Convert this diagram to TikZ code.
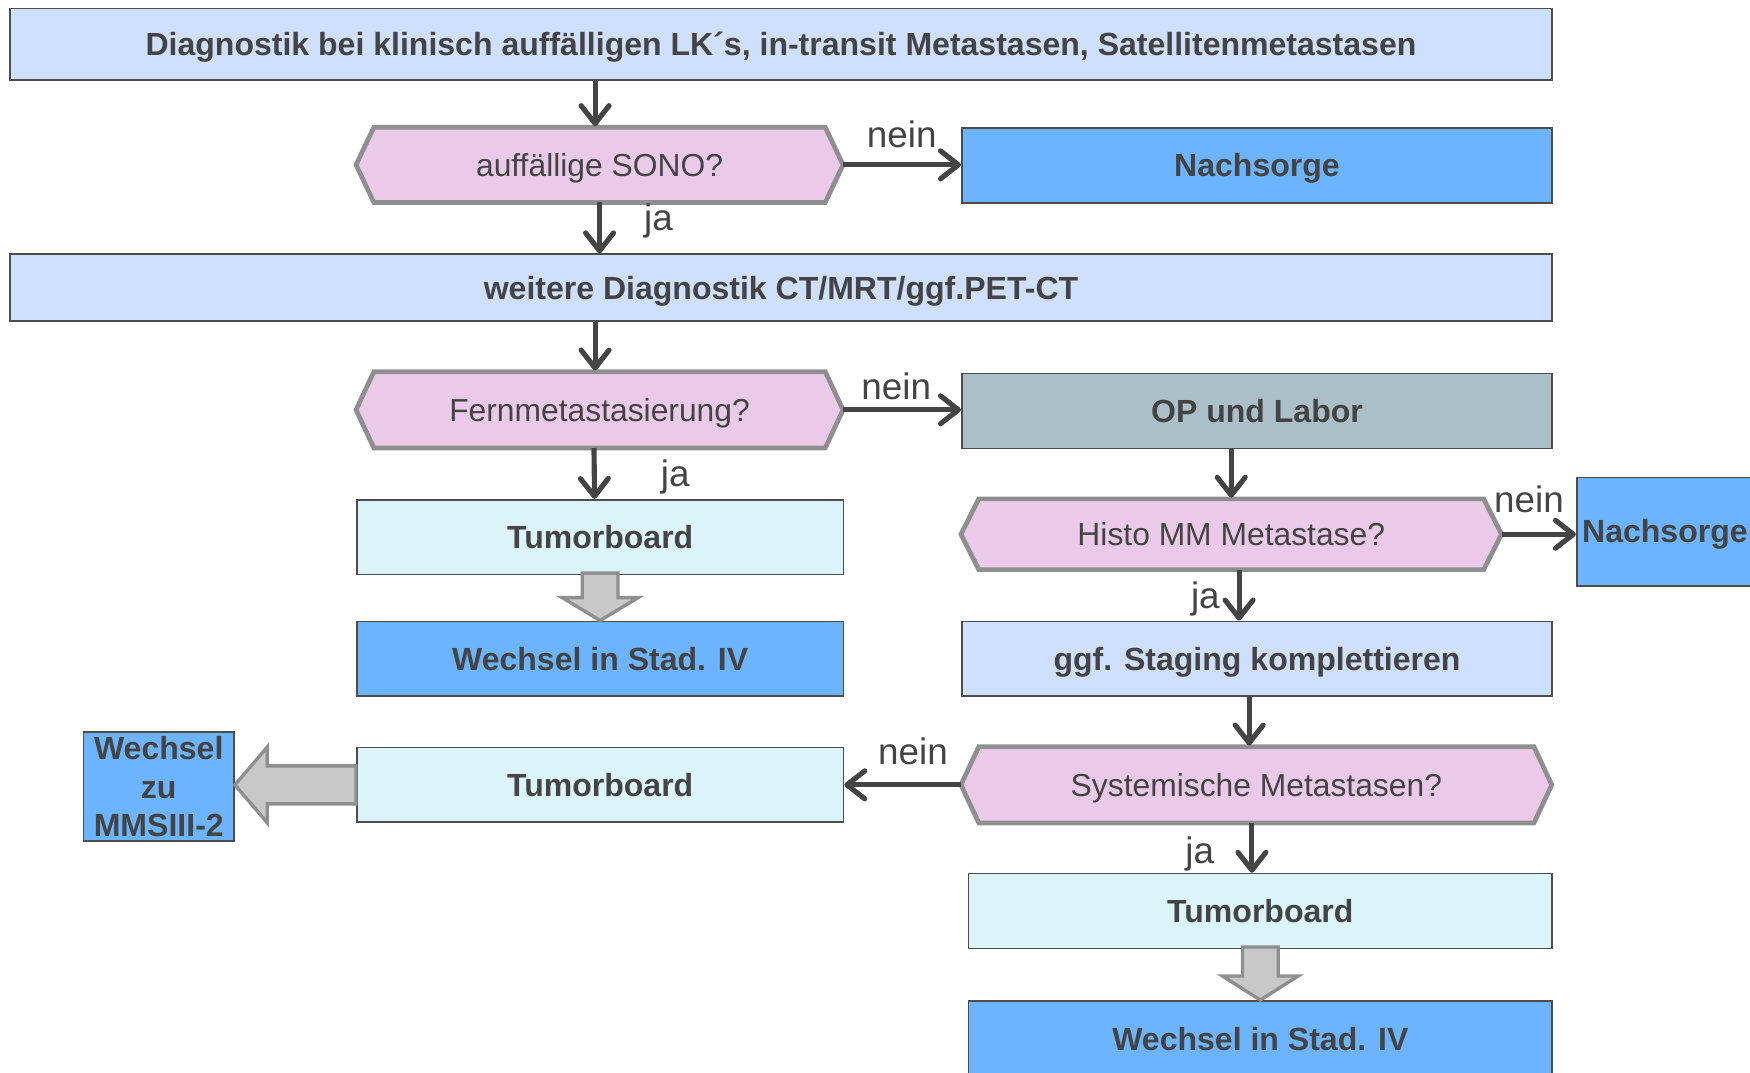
\documentclass[tikz,border=0pt]{standalone}
\usepackage{fontspec}
\setmainfont{Liberation Sans}
\usetikzlibrary{arrows.meta,backgrounds,calc}
\definecolor{lblue}{HTML}{CFDFFF}
\definecolor{pinkf}{HTML}{EACAE8}
\definecolor{bluef}{HTML}{6CB4FF}
\definecolor{grayb}{HTML}{AABFC8}
\definecolor{cyanf}{HTML}{DBF4F9}
\definecolor{txt}{HTML}{444444}
\definecolor{bord}{HTML}{4D4D4D}
\definecolor{hexb}{HTML}{8F8F8F}
\definecolor{blockf}{HTML}{C8C8C8}
\newcommand\hexpath[1]{\draw[hexline] (#1.west) -- ([xshift=16pt]#1.north west) -- ([xshift=-16pt]#1.north east) -- (#1.east) -- ([xshift=-16pt]#1.south east) -- ([xshift=16pt]#1.south west) -- cycle;}
\begin{document}
\begin{tikzpicture}[x=1pt,y=-1pt,
  box/.style={draw=bord, line width=1.5pt, text=txt, font=\fontsize{28.7}{34.5}\selectfont\bfseries, inner sep=0pt, anchor=north west, align=center},
  one/.style={text height=20.5pt, text depth=0pt},
  hexn/.style={anchor=north west, inner sep=0pt, text=txt, font=\fontsize{28.5}{34}\selectfont, text height=20.5pt, text depth=0pt},
  hexline/.style={draw=hexb, fill=pinkf, line width=4.2pt, line join=miter},
  lab/.style={text=txt, font=\fontsize{33}{36}\selectfont, inner sep=0pt},
  arr/.style={draw=txt, line width=4.6pt, -{Straight Barb[length=16pt,width=25pt,round]}},
  blk/.style={fill=blockf, draw=hexb, line width=3pt, line join=miter}]
\clip (0,0) rectangle (1568,961);

% nodes
\node[box, one, fill=lblue, minimum width=1382pt, minimum height=64pt] (title) at (8,7) {Diagnostik bei klinisch auffälligen LK´s, in-transit Metastasen, Satellitenmetastasen};
\node[hexn, minimum width=436pt, minimum height=67pt] (sono) at (319,114) {auffällige SONO?};
\node[box, one, fill=bluef, minimum width=529pt, minimum height=67pt] (nach1) at (861,114) {Nachsorge};
\node[box, one, fill=lblue, minimum width=1382pt, minimum height=60pt] (weit) at (8,227) {weitere Diagnostik CT/MRT/ggf.PET-CT};
\node[hexn, minimum width=436pt, minimum height=68pt] (fern) at (319,333) {Fernmetastasierung?};
\node[box, one, fill=grayb, minimum width=529pt, minimum height=67pt] (op) at (861,334) {OP und Labor};
\node[box, one, fill=cyanf, minimum width=436pt, minimum height=67pt] (tb1) at (319,447) {Tumorboard};
\node[box, one, fill=bluef, minimum width=436pt, minimum height=67pt] (wech1) at (319,556) {Wechsel in Stad. IV};
\node[hexn, minimum width=484pt, minimum height=63pt] (histo) at (861,447) {Histo MM Metastase?};
\node[box, one, fill=bluef, minimum width=158pt, minimum height=97pt] (nach2) at (1412,427) {Nachsorge};
\node[box, one, fill=lblue, minimum width=529pt, minimum height=67pt] (stag) at (861,556) {ggf. Staging komplettieren};
\node[hexn, minimum width=529pt, minimum height=68pt] (syst) at (861,669) {Systemische Metastasen?};
\node[box, one, fill=cyanf, minimum width=436pt, minimum height=67pt] (tb2) at (319,669) {Tumorboard};
\node[box, fill=bluef, minimum width=135pt, minimum height=98pt] (mms) at (74,655) {Wechsel\\zu\\MMSIII-2};
\node[box, one, fill=cyanf, minimum width=523pt, minimum height=67pt] (tb3) at (867,782) {Tumorboard};
\node[box, one, fill=bluef, minimum width=523pt, minimum height=68pt] (wech2) at (867,896) {Wechsel in Stad. IV};

\begin{scope}[on background layer]
\hexpath{sono}
\hexpath{fern}
\hexpath{histo}
\hexpath{syst}
\end{scope}

% connectors
\draw[arr] ([xshift=-4pt]sono.north |- title.south) -- ([xshift=-4pt,yshift=1pt]sono.north);
\draw[arr] (sono.east) -- (sono.east -| nach1.west);
\draw[arr] (sono.south) -- (sono.south |- weit.north);
\draw[arr] ([xshift=-4pt]fern.north |- weit.south) -- ([xshift=-4pt,yshift=1pt]fern.north);
\draw[arr] (fern.east) -- (fern.east -| op.west);
\draw[arr] ([xshift=-5pt]fern.south) -- ([xshift=-5pt]tb1.north);
\draw[arr] (histo.north |- op.south) -- ([yshift=1pt]histo.north);
\draw[arr] (histo.east) -- (histo.east -| nach2.west);
\draw[arr] ([xshift=7pt]histo.south) -- ([xshift=7pt]histo.south |- stag.north);
\draw[arr] ([xshift=-7pt]stag.south) -- ([xshift=-7pt,yshift=1pt]stag.south |- syst.north);
\draw[arr] (syst.west) -- (syst.west -| tb2.east);
\draw[arr] ([xshift=-4pt]syst.south) -- ([xshift=-4pt]syst.south |- tb3.north);

% block arrows
\draw[blk] ($(tb1.south)+(-16,-2)$) -- ($(tb1.south)+(16,-2)$) -- ($(tb1.south)+(16,20)$) -- ($(tb1.south)+(34,20)$) -- (wech1.north) -- ($(tb1.south)+(-34,20)$) -- ($(tb1.south)+(-16,20)$) -- cycle;
\draw[blk] ($(tb3.south)+(-16,-2)$) -- ($(tb3.south)+(16,-2)$) -- ($(tb3.south)+(16,24)$) -- ($(tb3.south)+(34,24)$) -- (wech2.north) -- ($(tb3.south)+(-34,24)$) -- ($(tb3.south)+(-16,24)$) -- cycle;
\coordinate (mtip) at (mms.east |- tb2.west);
\draw[blk] ($(tb2.west)+(0,-17)$) -- ($(tb2.west)+(0,17)$) -- ($(mtip)+(29,17)$) -- ($(mtip)+(29,34)$) -- (mtip) -- ($(mtip)+(29,-34)$) -- ($(mtip)+(29,-17)$) -- cycle;

% labels
\node[lab] (l1) at (808,120) {nein};
\node[lab] (l2) at (590,198) {ja};
\node[lab] (l3) at (803,346) {nein};
\node[lab] (l4) at (605,427) {ja};
\node[lab] (l5) at (1370,447) {nein};
\node[lab] (l6) at (1080,537) {ja};
\node[lab] (l7) at (818,673) {nein};
\node[lab] (l8) at (1075,765) {ja};
\end{tikzpicture}
\end{document}
